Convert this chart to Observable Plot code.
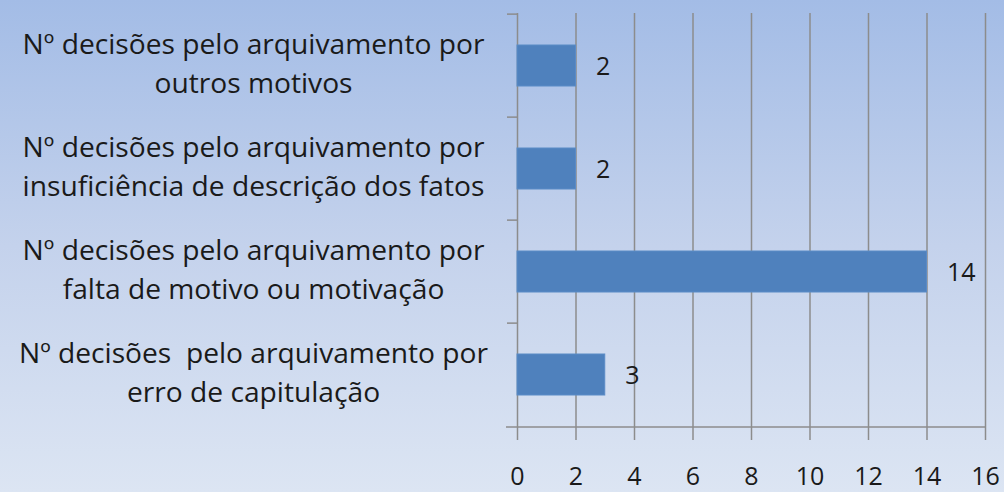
<!DOCTYPE html>
<html>
<head>
<meta charset="utf-8">
<script src="https://cdn.jsdelivr.net/npm/d3@7"></script>
<script src="https://cdn.jsdelivr.net/npm/@observablehq/plot@0.6"></script>
<style>
  html, body { margin: 0; padding: 0; }
  #chart {
    width: 1004px; height: 492px; overflow: hidden;
    background: linear-gradient(to bottom, #a3bce6 0%, #c4d2ec 50%, #dce5f3 100%);
  }
  #chart svg { background: transparent; display: block; }
</style>
</head>
<body>
<div id="chart"></div>
<script>
// ---- data ----
const categories = [
  "Nº decisões pelo arquivamento por\noutros motivos",
  "Nº decisões pelo arquivamento por\ninsuficiência de descrição dos fatos",
  "Nº decisões pelo arquivamento por\nfalta de motivo ou motivação",
  "Nº decisões\u00a0 pelo arquivamento por\nerro de capitulação"
];
const values = [2, 2, 14, 3];
const xTicks = [0, 2, 4, 6, 8, 10, 12, 14, 16];

const data = categories.map((c, i) => ({category: c, value: values[i]}));

// ---- layout ----
const W = 1004, H = 492;
const mL = 517, mR = 19, mT = 13, mB = 64;
const font = "'Open Sans', sans-serif";
const nBands = categories.length;
const step = (H - mT - mB) / nBands;

// fit label font size so the longest line is ~462px wide
const ctx = document.createElement("canvas").getContext("2d");
ctx.font = `100px 'Open Sans'`;
const w100 = ctx.measureText("Nº decisões pelo arquivamento por").width;
const labelSize = Math.min(30, 462 / w100 * 100);

const grid = "#8c8c8c";

const chart = Plot.plot({
  width: W, height: H,
  marginLeft: mL, marginRight: mR, marginTop: mT, marginBottom: mB,
  style: {background: "transparent", fontFamily: font, color: "#1a1a1a", overflow: "visible"},
  x: {domain: [0, 16], ticks: xTicks},
  y: {domain: categories, paddingInner: 0.6, paddingOuter: 0.3},
  marks: [
    Plot.gridX(xTicks, {stroke: grid, strokeOpacity: 1, strokeWidth: 1.5}),
    // category separator ticks on the left
    Plot.ruleY(categories, {y: d => d, dy: -step / 2, stroke: grid, strokeWidth: 1.5, insetLeft: -10, insetRight: W - mL - mR}),
    Plot.ruleY([0], {y: () => categories[nBands - 1], dy: step / 2, stroke: grid, strokeWidth: 1.5, insetLeft: -11}),
    Plot.barX(data, {y: "category", x: "value", fill: "#4f81bd", stroke: "#5b8bc6", strokeWidth: 1}),
    Plot.text(data, {y: "category", x: "value", text: d => String(d.value), textAnchor: "start", dx: 20, dy: 1, fontSize: 25, fill: "#1a1a1a"}),
    Plot.text(data, {y: "category", text: "category", frameAnchor: "left", dx: -264, dy: -5, textAnchor: "middle", lineAnchor: "middle", lineHeight: 1.38, fontSize: labelSize, fill: "#1a1a1a"}),
    Plot.axisX({ticks: xTicks, tickSize: 12, tickPadding: 27, stroke: grid, strokeWidth: 1.5, fontSize: 25, fill: "#1a1a1a", label: null}),
    Plot.axisY({ticks: [], label: null})
  ]
});
document.getElementById("chart").appendChild(chart);
</script>
</body>
</html>
